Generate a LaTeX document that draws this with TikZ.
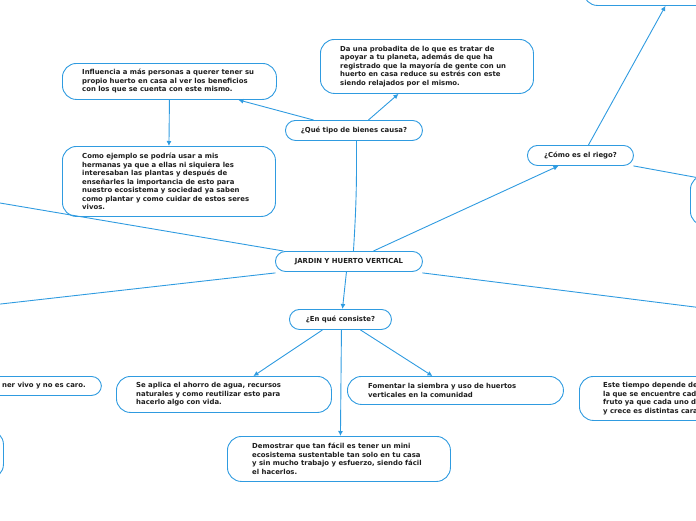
\documentclass[tikz,border=0pt]{standalone}
\usepackage{fontspec}
\setmainfont{DejaVu Sans}
\usetikzlibrary{arrows.meta}
\definecolor{lineblue}{HTML}{2F9BE0}
\definecolor{textc}{HTML}{1E1E1E}
\newcommand{\tf}{\fontsize{6.9}{8.5}\selectfont\bfseries}
\tikzset{
  shell/.style={draw=lineblue, line width=0.9pt, fill=white, rounded corners=14pt, anchor=north west, inner sep=0pt},
  pill/.style={draw=lineblue, line width=0.9pt, fill=white, rounded corners=10pt, anchor=north west, inner sep=0pt, font=\tf, text=textc, align=center},
  txt/.style={anchor=west, inner sep=0pt, align=left, font=\tf, text=textc},
  link/.style={draw=lineblue, line width=0.9pt},
  arr/.style={link, -{Latex[length=5pt,width=5pt]}}
}
\begin{document}
\begin{tikzpicture}[x=1pt,y=-1pt]
\useasboundingbox (0,0) rectangle (696,520);
\clip (0,0) rectangle (696,520);
% boxes
\node[shell, minimum width=217pt, minimum height=45pt] (tr) at (583,-40) {};
\node[shell, minimum width=214pt, minimum height=36pt] (inf) at (62,63) {};
\node[txt] (infT) at ([xshift=20pt]inf.west) {Influencia a más personas a querer tener su\\propio huerto en casa al ver los beneficios\\con los que se cuenta con este mismo.};
\node[shell, minimum width=213pt, minimum height=54pt] (da) at (320,39) {};
\node[txt] (daT) at ([xshift=20pt]da.west) {Da una probadita de lo que es tratar de\\apoyar a tu planeta, además de que ha\\registrado que la mayoría de gente con un\\huerto en casa reduce su estrés con este\\siendo relajados por el mismo.};
\node[shell, minimum width=213pt, minimum height=70pt] (como) at (62,146) {};
\node[txt] (comoT) at ([xshift=20pt]como.west) {Como ejemplo se podría usar a mis\\hermanas ya que a ellas ni siquiera les\\interesaban las plantas y después de\\enseñarles la importancia de esto para\\nuestro ecosistema y sociedad ya saben\\como plantar y como cuidar de estos seres\\vivos.};
\node[pill, minimum width=137pt, minimum height=20pt] (qt) at (285,120) {¿Qué tipo de bienes causa?};
\node[pill, minimum width=106pt, minimum height=20pt] (cer) at (527,145) {¿Cómo es el riego?};
\node[shell, minimum width=200pt, minimum height=50pt] (rb) at (690,175) {};
\node[pill, minimum width=147pt, minimum height=20pt] (jar) at (275,251) {JARDIN Y HUERTO VERTICAL};
\node[pill, minimum width=102pt, minimum height=20pt] (enq) at (289,309) {¿En qué consiste?};
\node[pill, minimum width=200pt, minimum height=19pt] (lp) at (-99,376) {};
\node[txt, anchor=east] (lpT) at ([xshift=-16pt]lp.east) {ner vivo y no es caro.};
\node[shell, minimum width=200pt, minimum height=48pt] (lb) at (-197,430) {};
\node[shell, minimum width=215pt, minimum height=36pt] (sea) at (116,376) {};
\node[txt] (seaT) at ([xshift=20pt]sea.west) {Se aplica el ahorro de agua, recursos\\naturales y como reutilizar esto para\\hacerlo algo con vida.};
\node[shell, minimum width=216pt, minimum height=28pt] (fom) at (347,376) {};
\node[txt] (fomT) at ([xshift=21pt]fom.west) {Fomentar la siembra y uso de huertos\\verticales en la comunidad};
\node[shell, minimum width=250pt, minimum height=44pt] (est) at (579,376) {};
\node[txt] (estT) at ([xshift=24pt]est.west) {Este tiempo depende de\\la que se encuentre cad\\fruto ya que cada uno d\\y crece es distintas cara};
\node[shell, minimum width=223pt, minimum height=45pt] (dem) at (227,436) {};
\node[txt] (demT) at ([xshift=25pt]dem.west) {Demostrar que tan fácil es tener un mini\\ecosistema sustentable tan solo en tu casa\\y sin mucho trabajo y esfuerzo, siendo fácil\\el hacerlos.};
% free ends
\coordinate (offUL) at (-10,201.3);
\coordinate (offLL) at (-10,305.2);
\coordinate (offRR) at (706,308.4);
\coordinate (offRB) at (706,179.2);
% connectors
\draw[arr] ([xshift=-40.5pt]qt.north) -- ([xshift=69pt]inf.south);
\draw[arr] ([xshift=14.5pt]qt.north) -- ([xshift=-28.5pt]da.south);
\draw[arr] (inf.south) -- (como.north);
\draw[link] ([xshift=2.5pt]qt.south) to[bend left=2] ([xshift=4.5pt]jar.north);
\draw[arr] ([xshift=24.5pt]jar.north) -- ([xshift=-22pt]cer.south);
\draw[arr] ([xshift=8pt]cer.north) -- ([xshift=-26.5pt]tr.south);
\draw[link] ([xshift=53pt]cer.south) -- (offRB);
\draw[link] ([xshift=-65.5pt]jar.north) -- (offUL);
\draw[link] ([xshift=-73.5pt,yshift=-1pt]jar.south) -- (offLL);
\draw[link] ([xshift=73.5pt,yshift=-1pt]jar.south) -- (offRR);
\draw[arr] ([xshift=-2.5pt]jar.south) -- ([xshift=2pt]enq.north);
\draw[arr] ([xshift=-18pt]enq.south) -- ([xshift=29.5pt]sea.north);
\draw[arr] ([xshift=20pt]enq.south) -- ([xshift=-23pt]fom.north);
\draw[arr] ([xshift=1pt]enq.south) -- ([xshift=1.5pt]dem.north);
\end{tikzpicture}
\end{document}
